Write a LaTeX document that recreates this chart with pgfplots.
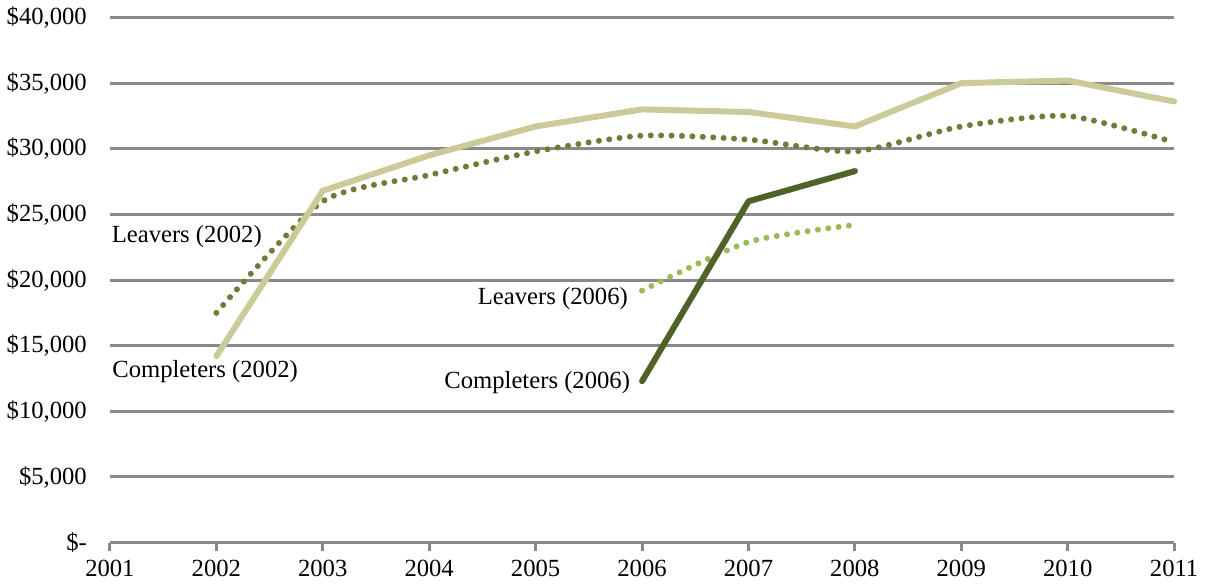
\documentclass[border=0pt]{standalone}
\usepackage{pgfplots}
\pgfplotsset{compat=1.18}
\usepackage{fontspec}
\setmainfont{Liberation Serif}
\definecolor{compA}{HTML}{CACB98}
\definecolor{leavA}{HTML}{76783A}
\definecolor{compB}{HTML}{4F6228}
\definecolor{leavB}{HTML}{9BBB59}
\definecolor{gridc}{HTML}{898989}
\begin{document}
\begin{tikzpicture}
\begin{axis}[
  scale only axis,
  width=531pt, height=262pt,
  xmin=2001, xmax=2011, ymin=0, ymax=40000,
  scaled ticks=false,
  xtick={2001,...,2011},
  xticklabels={2001,2002,2003,2004,2005,2006,2007,2008,2009,2010,2011},
  ytick={0,5000,...,40000},
  yticklabels={{\$-},{\$5,000},{\$10,000},{\$15,000},{\$20,000},{\$25,000},{\$30,000},{\$35,000},{\$40,000}},
  separate axis lines,
  axis x line*=bottom,
  axis y line*=left,
  x axis line style={draw=gridc, line width=1.5pt, -},
  y axis line style={draw=none},
  xtick style={draw=gridc, line width=1.5pt},
  xtick align=outside,
  major tick length=4pt,
  ytick style={draw=none},
  ymajorgrids,
  grid style={draw=gridc, line width=1.5pt},
  tick label style={font=\fontsize{12.3}{14}\selectfont, text=black},
  xticklabel style={yshift=-1pt},
  yticklabel style={xshift=-8pt},
  clip=false,
]
\addplot[leavA, line width=3pt, line cap=round, dash pattern=on 0pt off 5.2pt, smooth, tension=0.4] coordinates {
(2002,17500) (2003,26000) (2004,28000) (2005,29800) (2006,31000) (2007,30700) (2008,29800) (2009,31700) (2010,32500) (2011,30500)};
\addplot[compA, line width=3pt, line cap=round, line join=round] coordinates {
(2002,14200) (2003,26800) (2004,29500) (2005,31700) (2006,33000) (2007,32800) (2008,31700) (2009,35000) (2010,35200) (2011,33600)};
\addplot[leavB, line width=3pt, line cap=round, dash pattern=on 0pt off 5.2pt, smooth, tension=0.4] coordinates {
(2006,19200) (2007,22900) (2008,24200)};
\addplot[compB, line width=3pt, line cap=round, line join=round] coordinates {
(2006,12300) (2007,26000) (2008,28300)};
\node[anchor=east, font=\fontsize{12.3}{14}\selectfont, inner sep=0pt] at (axis cs:2002.43,23300) {Leavers (2002)};
\node[anchor=east, font=\fontsize{12.3}{14}\selectfont, inner sep=0pt] at (axis cs:2002.77,13000) {Completers (2002)};
\node[anchor=east, font=\fontsize{12.3}{14}\selectfont, inner sep=0pt] at (axis cs:2005.87,18600) {Leavers (2006)};
\node[anchor=east, font=\fontsize{12.3}{14}\selectfont, inner sep=0pt] at (axis cs:2005.89,12200) {Completers (2006)};
\end{axis}
\end{tikzpicture}
\end{document}
